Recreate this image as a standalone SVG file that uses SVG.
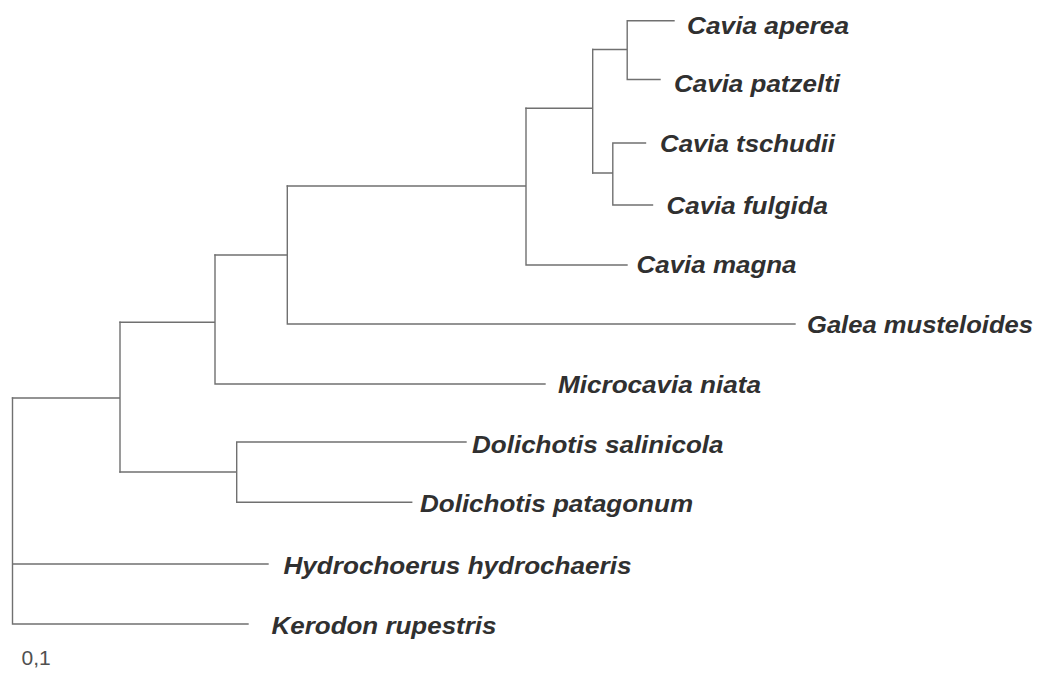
<svg xmlns="http://www.w3.org/2000/svg" width="1040" height="677" viewBox="0 0 1040 677">
<style>
.br{fill:none;stroke:#707070;stroke-width:1.4;stroke-linecap:square;stroke-linejoin:miter}
.lb{font-family:"Liberation Sans",Arial,sans-serif;font-weight:bold;font-style:italic;font-size:23px;fill:#303030}
.sc{font-family:"Liberation Sans",Arial,sans-serif;font-size:21px;fill:#505050}
</style>
<rect width="1040" height="677" fill="#ffffff"/>
<g id="connectors">
<path class="br" d="M12.5,398 V624 M12.5,564 H268 M12.5,624 H248"/>
<path class="br" d="M12.5,398 H120 M120,322.3 V472"/>
<path class="br" d="M120,472 H236.7 M236.7,442 V502.3 M236.7,442 H466 M236.7,502.3 H411.7"/>
<path class="br" d="M120,322.3 H215 M215,255 V384 M215,384 H545"/>
<path class="br" d="M215,255 H287.3 M287.3,186 V324 M287.3,324 H795"/>
<path class="br" d="M287.3,186 H526 M526,108.3 V265 M526,265 H627"/>
<path class="br" d="M526,108.3 H592.7 M592.7,49.5 V173"/>
<path class="br" d="M592.7,49.5 H627.2 M627.2,20.7 V79.5 M627.2,20.7 H674 M627.2,79.5 H660"/>
<path class="br" d="M592.7,173 H612.8 M612.8,143 V205 M612.8,143 H645.5 M612.8,205 H652.5"/>
</g>
<g id="n-cavia-aperea"><text class="lb" x="687" y="34" textLength="162" lengthAdjust="spacingAndGlyphs">Cavia aperea</text></g>
<g id="n-cavia-patzelti"><text class="lb" x="674" y="92" textLength="166" lengthAdjust="spacingAndGlyphs">Cavia patzelti</text></g>
<g id="n-cavia-tschudii"><text class="lb" x="660" y="152" textLength="175" lengthAdjust="spacingAndGlyphs">Cavia tschudii</text></g>
<g id="n-cavia-fulgida"><text class="lb" x="666.5" y="214" textLength="161.5" lengthAdjust="spacingAndGlyphs">Cavia fulgida</text></g>
<g id="n-cavia-magna"><text class="lb" x="636.5" y="273" textLength="160" lengthAdjust="spacingAndGlyphs">Cavia magna</text></g>
<g id="n-galea-musteloides"><text class="lb" x="807" y="333" textLength="226" lengthAdjust="spacingAndGlyphs">Galea musteloides</text></g>
<g id="n-microcavia-niata"><text class="lb" x="558" y="393" textLength="203" lengthAdjust="spacingAndGlyphs">Microcavia niata</text></g>
<g id="n-dolichotis-salinicola"><text class="lb" x="472" y="453" textLength="251.5" lengthAdjust="spacingAndGlyphs">Dolichotis salinicola</text></g>
<g id="n-dolichotis-patagonum"><text class="lb" x="420" y="512" textLength="273" lengthAdjust="spacingAndGlyphs">Dolichotis patagonum</text></g>
<g id="n-hydrochoerus-hydrochaeris"><text class="lb" x="283.5" y="574" textLength="348" lengthAdjust="spacingAndGlyphs">Hydrochoerus hydrochaeris</text></g>
<g id="n-kerodon-rupestris"><text class="lb" x="271.5" y="634" textLength="225" lengthAdjust="spacingAndGlyphs">Kerodon rupestris</text></g>
<g id="scale"><text class="sc" x="21.5" y="665">0,1</text></g>
</svg>
